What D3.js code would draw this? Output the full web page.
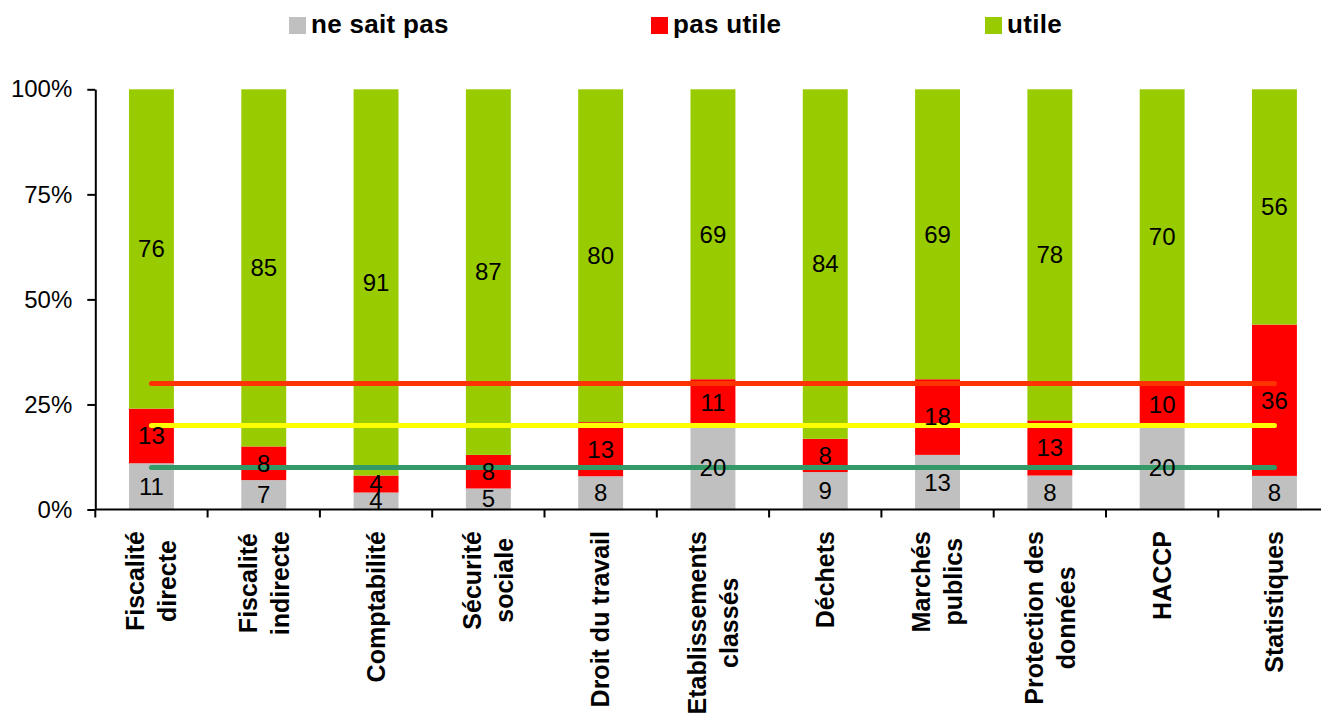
<!DOCTYPE html>
<html>
<head>
<meta charset="utf-8">
<script src="https://cdn.jsdelivr.net/npm/d3@7"></script>
<style>
  html, body { margin: 0; padding: 0; background: #fff; }
  svg { display: block; font-family: "Liberation Sans", Arial, sans-serif; }
</style>
</head>
<body>
<svg id="chart" width="1321" height="715"></svg>
<script>
// ---- data ----
const categories = [
  "Fiscalité\ndirecte", "Fiscalité\nindirecte", "Comptabilité", "Sécurité\nsociale",
  "Droit du travail", "Etablissements\nclassés", "Déchets", "Marchés\npublics",
  "Protection des\ndonnées", "HACCP", "Statistiques"
];
const seriesNames = ["ne sait pas", "pas utile", "utile"];
const neSaitPas = [11, 7, 4, 5, 8, 20, 9, 13, 8, 20, 8];
const pasUtile  = [13, 8, 4, 8, 13, 11, 8, 18, 13, 10, 36];
const utile     = [76, 85, 91, 87, 80, 69, 84, 69, 78, 70, 56];
const yTicks = [0, 0.25, 0.5, 0.75, 1];
const refLevels = [30, 20, 10];

// ---- styles ----
const seriesColors = ["#C0C0C0", "#FF0000", "#99CC00"];
const refColors = ["#FF3300", "#FFFF00", "#339966"];

const svg = d3.select("#chart");
const plotL = 95.3, plotR = 1330.6, plotT = 89.3, plotB = 509.5;

const rows = categories.map((c, i) => ({
  cat: c, "ne sait pas": neSaitPas[i], "pas utile": pasUtile[i], "utile": utile[i]
}));
const raw = { "ne sait pas": neSaitPas, "pas utile": pasUtile, "utile": utile };

const x = d3.scaleBand().domain(categories).range([plotL, plotR])
  .paddingInner(0.6).paddingOuter(0.3);
const y = d3.scaleLinear().domain([0, 1]).range([plotB, plotT]);

const stacked = d3.stack().keys(seriesNames).offset(d3.stackOffsetExpand)(rows);

// bars
const g = svg.append("g");
stacked.forEach((s, si) => {
  g.selectAll(null).data(s).enter().append("rect")
    .attr("x", d => x(d.data.cat))
    .attr("width", x.bandwidth())
    .attr("y", d => y(d[1]))
    .attr("height", d => y(d[0]) - y(d[1]))
    .attr("fill", seriesColors[si]);
});

// reference lines
refLevels.forEach((lv, li) => {
  const pts = categories.map(c => [x(c) + x.bandwidth() / 2, y(lv / 100)]);
  svg.append("path")
    .attr("d", d3.line()(pts))
    .attr("fill", "none")
    .attr("stroke", refColors[li])
    .attr("stroke-width", 5)
    .attr("stroke-linecap", "round");
});

// data labels
stacked.forEach((s, si) => {
  svg.selectAll(null).data(s).enter().append("text")
    .attr("x", d => x(d.data.cat) + x.bandwidth() / 2)
    .attr("y", d => (y(d[0]) + y(d[1])) / 2)
    .attr("dy", "0.35em")
    .attr("text-anchor", "middle")
    .attr("font-size", 24)
    .attr("fill", "#000")
    .text((d, i) => raw[seriesNames[si]][i]);
});

// y axis
const yAxis = svg.append("g").attr("transform", `translate(${plotL},0)`)
  .call(d3.axisLeft(y).tickValues(yTicks).tickFormat(d3.format(".0%")).tickSize(8).tickSizeOuter(0));
yAxis.select(".domain").attr("stroke", "#000").attr("stroke-width", 2);
yAxis.selectAll(".tick line").attr("stroke", "#000").attr("stroke-width", 2);
yAxis.selectAll(".tick text").attr("font-size", 24).attr("x", -23)
  .attr("font-family", "Liberation Sans, Arial, sans-serif").attr("fill", "#000");

// x axis line + boundary ticks
const step = x.step();
svg.append("line").attr("x1", plotL).attr("x2", 1321).attr("y1", plotB).attr("y2", plotB)
  .attr("stroke", "#000").attr("stroke-width", 2);
const bounds = categories.map(c => x(c) + x.bandwidth() / 2 - step / 2);
bounds.push(x(categories[categories.length - 1]) + x.bandwidth() / 2 + step / 2);
svg.selectAll(null).data(bounds).enter().append("line")
  .attr("x1", d => d).attr("x2", d => d)
  .attr("y1", plotB).attr("y2", plotB + 8)
  .attr("stroke", "#000").attr("stroke-width", 2);

// category labels (rotated, multi-line, centered)
const lineH = 32, fs = 25, topEnd = 531;
categories.forEach(c => {
  const lines = c.split("\n");
  const cx = x(c) + x.bandwidth() / 2;
  const grp = svg.append("g");
  const texts = lines.map((ln, i) => grp.append("text")
    .attr("font-size", fs).attr("font-weight", "bold")
    .attr("text-anchor", "middle").attr("fill", "#000")
    .text(ln));
  const maxLen = d3.max(texts, t => t.node().getComputedTextLength());
  const cy = topEnd + maxLen / 2;
  texts.forEach((t, i) => {
    const off = (i - (lines.length - 1) / 2) * lineH + fs * 0.35;
    t.attr("transform", `translate(${cx + off},${cy}) rotate(-90)`);
  });
});

// legend
const legendX = [289, 651, 985];
seriesNames.forEach((n, i) => {
  svg.append("rect").attr("x", legendX[i]).attr("y", 17).attr("width", 17).attr("height", 17)
    .attr("fill", seriesColors[i]);
  svg.append("text").attr("x", legendX[i] + 22).attr("y", 33)
    .attr("font-size", 26).attr("font-weight", "bold").attr("fill", "#000")
    .attr("letter-spacing", "0.3px")
    .text(n);
});
</script>
</body>
</html>
